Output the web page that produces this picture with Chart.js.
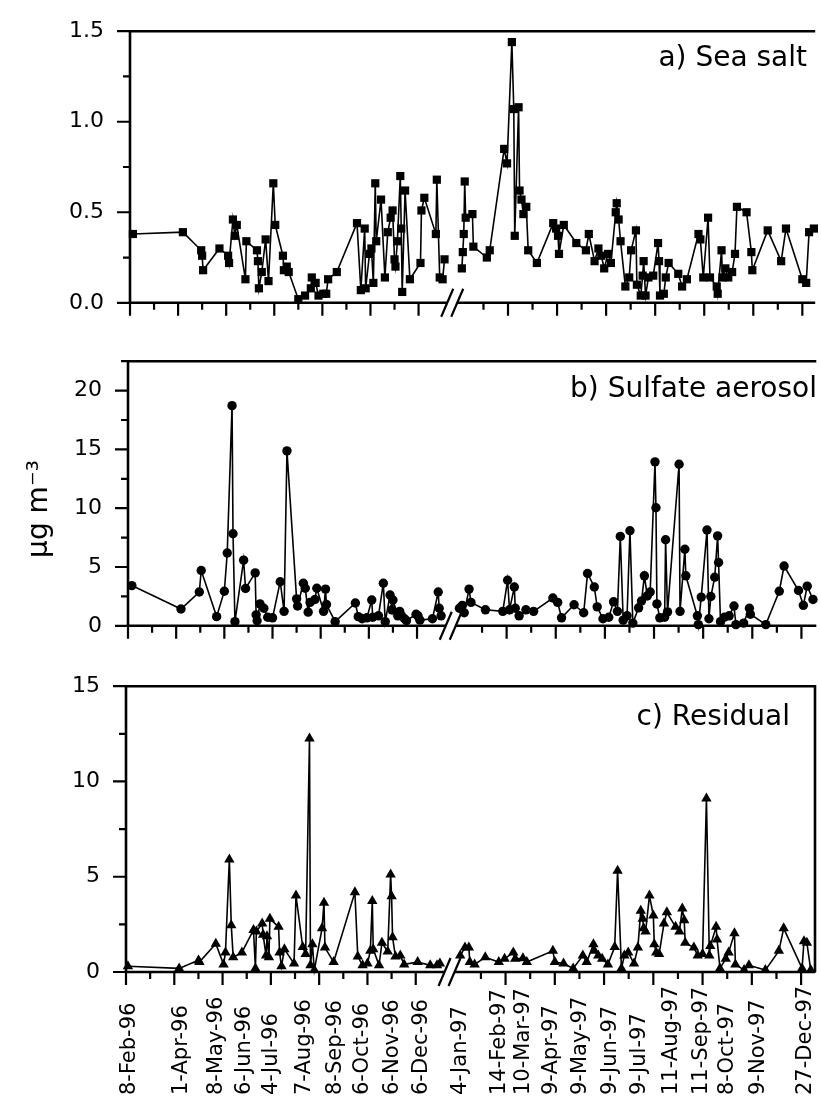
<!DOCTYPE html>
<html lang="en">
  <head>
    <meta charset="utf-8"/>
    <script src="https://cdn.jsdelivr.net/npm/chart.js@4/dist/chart.umd.min.js"></script>
    <style>
      html, body { margin: 0; padding: 0; background: #fff; overflow: hidden; }
      #page { position: relative; width: 821px; height: 1098px; }
      canvas { position: absolute; left: 0; }
    </style>
  </head>
  <body>
    <div id="page">
      <canvas id="panelA"></canvas>
      <canvas id="panelB"></canvas>
      <canvas id="panelC"></canvas>
    </div>

<script>
// x values are days on the broken axis: 1996 = day of year, 1997 = day of year + 377
const BREAK_DAY = 372;
const X_MIN = 37;
const PX_PER_DAY = 0.97;

const saltDays = [40,92,111,112,113,130,139,140,144,146,148,157,158,169,170,171,174,178,181,186,188,196,197,200,202,
  212,219,225,226,230,233,238,241,243,252,273,277,281,282,286,288,290,292,293,298,302,305,308,310,312,313,315,318,319,320,
  323,328,339,340,343,355,356,359,362,364,
  382,383,384,385,386,393,394,408,411,426,429,434,436,437,441,442,444,446,449,451,460,477,480,482,483,488,501,511,514,520,
  524,527,530,534,537,542,543,545,547,552,556,558,563,564,568,570,571,573,576,581,586,587,588,592,594,597,607,611,616,628,
  630,633,638,640,647,648,652,653,656,659,663,666,668,678,683,684,700,714,719,736,740,743,748];
const saltVals = [0.38,0.39,0.29,0.26,0.18,0.30,0.26,0.22,0.46,0.37,0.43,0.13,0.34,0.29,0.23,0.08,0.17,0.35,0.12,0.66,
  0.43,0.26,0.18,0.20,0.17,0.02,0.04,0.08,0.14,0.11,0.04,0.05,0.05,0.13,0.17,0.44,0.07,0.41,0.08,0.27,0.30,0.11,0.66,0.34,
  0.57,0.14,0.39,0.47,0.51,0.24,0.20,0.34,0.70,0.41,0.06,0.62,0.13,0.22,0.51,0.58,0.38,0.68,0.14,0.13,0.24,
  0.19,0.28,0.38,0.67,0.47,0.49,0.31,0.25,0.29,0.85,0.77,1.44,1.07,0.37,1.08,0.62,0.57,0.49,0.53,0.29,0.22,0.44,0.41,0.37,
  0.27,0.43,0.33,0.29,0.38,0.23,0.30,0.26,0.19,0.27,0.22,0.50,0.55,0.46,0.34,0.09,0.14,0.29,0.40,0.10,0.04,0.15,0.23,0.04,
  0.14,0.15,0.33,0.23,0.04,0.05,0.14,0.22,0.16,0.09,0.13,0.38,0.35,0.14,0.47,0.14,0.09,0.05,0.29,0.14,0.19,0.14,0.17,0.27,
  0.53,0.50,0.28,0.18,0.40,0.23,0.41,0.13,0.11,0.39,0.41];

const sulfDays = [41,92,111,113,129,137,140,145,146,148,157,159,169,170,171,174,178,182,187,195,199,202,212,213,219,221,
  224,226,231,233,240,242,243,252,273,276,280,285,290,291,297,302,304,309,311,312,317,319,321,324,326,336,338,340,353,359,
  360,362,
  381,384,386,391,393,408,426,431,433,438,439,443,450,458,478,483,487,500,510,514,521,524,530,536,541,545,548,551,555,558,
  561,567,570,573,576,579,584,585,586,589,594,595,597,609,610,615,616,628,629,632,638,640,642,646,649,650,652,656,661,666,
  668,676,682,683,699,713,718,733,738,742,748];
const sulfVals = [3.42,1.43,2.87,4.70,0.78,2.94,6.19,18.72,7.83,0.35,5.58,3.17,4.50,0.93,0.43,1.86,1.49,0.73,0.68,3.75,
  1.23,14.87,2.29,1.68,3.62,3.19,1.16,1.99,2.24,3.19,1.23,3.12,1.81,0.35,1.94,0.78,0.60,0.68,2.19,0.73,0.85,3.62,0.35,2.62,
  1.36,2.19,0.85,1.23,0.85,0.60,0.43,0.98,0.85,0.48,0.60,2.87,1.49,0.85,
  1.49,1.74,1.11,3.12,1.99,1.36,1.23,3.87,1.36,3.30,1.49,0.85,1.36,1.23,2.36,1.99,0.68,1.79,1.11,4.45,3.30,1.61,0.60,0.73,
  2.04,1.23,7.60,0.48,0.85,8.08,0.23,1.53,2.11,4.25,2.54,2.87,13.94,10.04,1.86,0.68,0.73,7.32,1.18,13.74,1.23,6.51,4.25,
  0.85,0.10,2.44,8.15,0.60,2.49,4.13,7.65,5.38,0.35,0.73,0.85,1.68,0.10,0.23,1.49,0.98,0.10,2.94,5.08,3.00,1.74,3.37,2.24];

const resDays = [39,92,112,113,130,138,140,144,146,148,157,169,171,172,178,179,182,183,185,186,195,196,198,201,211,213,
  220,223,227,228,230,232,240,242,243,252,274,277,282,287,290,292,293,299,302,308,311,312,313,316,321,325,339,352,359,362,
  383,388,392,393,398,409,423,429,438,440,448,452,479,481,490,500,510,514,521,522,526,530,536,543,546,550,553,557,563,567,
  570,572,573,575,579,583,584,586,589,594,597,606,610,613,615,616,625,629,634,638,641,642,648,649,652,658,661,667,668,677,
  682,699,713,718,737,739,742,746];
const resVals = [0.30,0.19,0.61,0.52,1.48,0.40,1.03,5.91,2.46,0.77,1.03,2.21,0.19,2.12,2.54,1.95,0.86,1.87,0.77,2.79,
  2.37,1.03,0.30,1.20,0.44,4.01,1.31,0.94,12.26,0.35,1.45,0.10,2.29,3.64,1.28,0.52,4.18,0.81,0.35,0.44,1.11,3.72,1.20,0.35,
  1.53,1.08,5.12,3.97,1.82,0.81,0.86,0.40,0.52,0.35,0.35,0.44,
  0.86,1.28,1.28,0.52,0.40,0.77,0.52,0.69,1.03,0.69,0.72,0.52,1.11,0.52,0.44,0.19,0.86,0.52,1.45,1.11,0.86,0.69,0.40,1.31,
  5.32,0.19,0.86,1.03,0.44,1.28,3.22,2.79,2.29,2.12,4.01,2.96,1.45,1.03,0.94,2.54,3.13,2.37,2.12,3.33,2.71,1.53,1.28,0.86,
  0.94,9.11,0.86,1.36,2.37,1.70,0.19,0.69,1.03,2.04,0.40,0.10,0.35,0.10,1.11,2.29,0.19,1.62,1.53,0.10];

const dateLabels = ['8-Feb-96','1-Apr-96','8-May-96','6-Jun-96','4-Jul-96','7-Aug-96','8-Sep-96','6-Oct-96','6-Nov-96',
  '6-Dec-96','4-Jan-97','14-Feb-97','10-Mar-97','9-Apr-97','9-May-97','9-Jun-97','9-Jul-97','11-Aug-97','11-Sep-97',
  '8-Oct-97','9-Nov-97','27-Dec-97'];
const dateDays = [39,92,129,158,186,220,252,280,311,341,381,422,446,476,506,537,567,600,631,658,690,738];

// unlabeled ticks along the time axis
const xTicks = [];
for (let k = 0; k <= 12; k++) xTicks.push({ v: 37 + 25 * k, major: k % 2 === 0 });
for (let j = 0; j <= 13; j++) xTicks.push({ v: 404.5 + 25.5 * j, major: j % 2 === 1 });

Chart.defaults.font.family = '"DejaVu Sans", sans-serif';
Chart.defaults.color = '#000';

function series(days, vals) {
    const pts = [];
    days.forEach((d, i) => {
        if (i > 0 && days[i - 1] < BREAK_DAY && d > BREAK_DAY) pts.push({ x: BREAK_DAY, y: null });
        pts.push({ x: d, y: vals[i] });
    });
    return pts;
}

const panels = [
    { el: 'panelA', top: 0, height: 334, plotTop: 24, left: 130, right: 821, axisH: 14, drawRight: false,
      yMax: 1.5, yMajor: [0, 0.5, 1.0, 1.5], yMinor: 0.25, dec: 1,
      days: saltDays, vals: saltVals, point: 'rect', radius: 5.8,
      title: 'a) Sea salt', titleX: 807, titleY: 66 },
    { el: 'panelB', top: 330, height: 327, plotTop: 345, left: 128, right: 821, axisH: 14, drawRight: false,
      yMax: 22.5, yMajor: [0, 5, 10, 15, 20], yMinor: 2.5, dec: 0,
      days: sulfDays, vals: sulfVals, point: 'circle', radius: 4.7,
      title: 'b) Sulfate aerosol', titleX: 817, titleY: 397, yTitle: true },
    { el: 'panelC', top: 655, height: 443, plotTop: 675, left: 126, right: 818, axisH: 126, drawRight: true,
      yMax: 15, yMajor: [0, 5, 10, 15], yMinor: 2.5, dec: 0,
      days: resDays, vals: resVals, point: 'triangle', radius: 6,
      title: 'c) Residual', titleX: 790, titleY: 725, dates: true }
];

function decor(p) {
    return {
        id: 'decor',
        beforeDatasetsDraw(chart) {
            const { ctx, chartArea: a, scales: { x, y } } = chart;
            const bx = x.getPixelForValue(BREAK_DAY);
            ctx.save();
            ctx.strokeStyle = '#000';
            ctx.lineWidth = 2.6;
            ctx.beginPath();
            ctx.moveTo(a.left, a.bottom + 1);
            ctx.lineTo(a.left, a.top);
            ctx.lineTo(a.right, a.top);
            if (p.drawRight) ctx.lineTo(a.right, a.bottom);
            ctx.moveTo(a.left - 1, a.bottom);
            ctx.lineTo(bx - 5, a.bottom);
            ctx.moveTo(bx + 5, a.bottom);
            ctx.lineTo(a.right, a.bottom);
            ctx.stroke();

            ctx.lineWidth = 2.2;
            [-5, 5].forEach((dx) => {
                ctx.beginPath();
                ctx.moveTo(bx + dx - 6, a.bottom + 14);
                ctx.lineTo(bx + dx + 6, a.bottom - 14);
                ctx.stroke();
            });

            ctx.beginPath();
            xTicks.forEach((t) => {
                const px = x.getPixelForValue(t.v);
                if (px > a.right - 1) return;
                ctx.moveTo(px, a.bottom);
                ctx.lineTo(px, a.bottom + (t.major ? 13 : 7));
            });
            const n = Math.round(p.yMax / p.yMinor);
            for (let i = 0; i <= n; i++) {
                const v = i * p.yMinor;
                const py = y.getPixelForValue(v);
                const major = p.yMajor.some((m) => Math.abs(m - v) < 1e-6);
                ctx.moveTo(a.left - (major ? 13 : 7), py);
                ctx.lineTo(a.left, py);
            }
            ctx.stroke();
            ctx.restore();
        },
        afterDraw(chart) {
            const { ctx, scales: { x } } = chart;
            ctx.save();
            ctx.fillStyle = '#000';
            ctx.font = '28px "DejaVu Sans"';
            ctx.textAlign = 'right';
            ctx.textBaseline = 'alphabetic';
            ctx.fillText(p.title, p.titleX, p.titleY - p.top);

            if (p.yTitle) {
                ctx.save();
                ctx.translate(40, 509 - p.top);
                ctx.rotate(-Math.PI / 2);
                ctx.font = '28px "DejaVu Sans"';
                ctx.textAlign = 'center';
                ctx.textBaseline = 'middle';
                ctx.fillText('\u03bcg m\u207b\u00b3', 0, 0);
                ctx.restore();
            }

            if (p.dates) {
                ctx.font = '21px "DejaVu Sans"';
                ctx.textAlign = 'left';
                dateLabels.forEach((txt, i) => {
                    const px = x.getPixelForValue(dateDays[i]);
                    ctx.save();
                    ctx.translate(px + 7.5, chart.height - 3);
                    ctx.rotate(-Math.PI / 2);
                    ctx.fillText(txt, 0, 0);
                    ctx.restore();
                });
            }
            ctx.restore();
        }
    };
}

panels.forEach((p) => {
    const canvas = document.getElementById(p.el);
    canvas.width = 821;
    canvas.height = p.height;
    canvas.style.top = p.top + 'px';

    new Chart(canvas.getContext('2d'), {
        type: 'scatter',
        data: {
            datasets: [{
                data: series(p.days, p.vals),
                showLine: true,
                spanGaps: false,
                borderColor: '#000',
                borderWidth: 1.6,
                pointStyle: p.point,
                pointRadius: p.radius,
                pointBackgroundColor: '#000',
                pointBorderWidth: 0,
                clip: false
            }]
        },
        options: {
            responsive: false,
            animation: false,
            layout: { padding: { top: p.plotTop - p.top, left: 0, right: 821 - p.right, bottom: 0 } },
            plugins: { legend: { display: false }, tooltip: { enabled: false } },
            scales: {
                x: {
                    type: 'linear',
                    min: X_MIN,
                    max: X_MIN + (p.right - p.left) / PX_PER_DAY,
                    grid: { display: false },
                    border: { display: false },
                    ticks: { display: false },
                    afterFit: (scale) => { scale.height = p.axisH; }
                },
                y: {
                    min: 0,
                    max: p.yMax,
                    grid: { display: false },
                    border: { display: false },
                    ticks: {
                        padding: 18,
                        font: { size: 22 },
                        callback: (v) => v.toFixed(p.dec)
                    },
                    afterBuildTicks: (scale) => { scale.ticks = p.yMajor.map((v) => ({ value: v })); },
                    afterFit: (scale) => { scale.width = p.left; }
                }
            }
        },
        plugins: [decor(p)]
    });
});
</script>
  </body>
</html>
